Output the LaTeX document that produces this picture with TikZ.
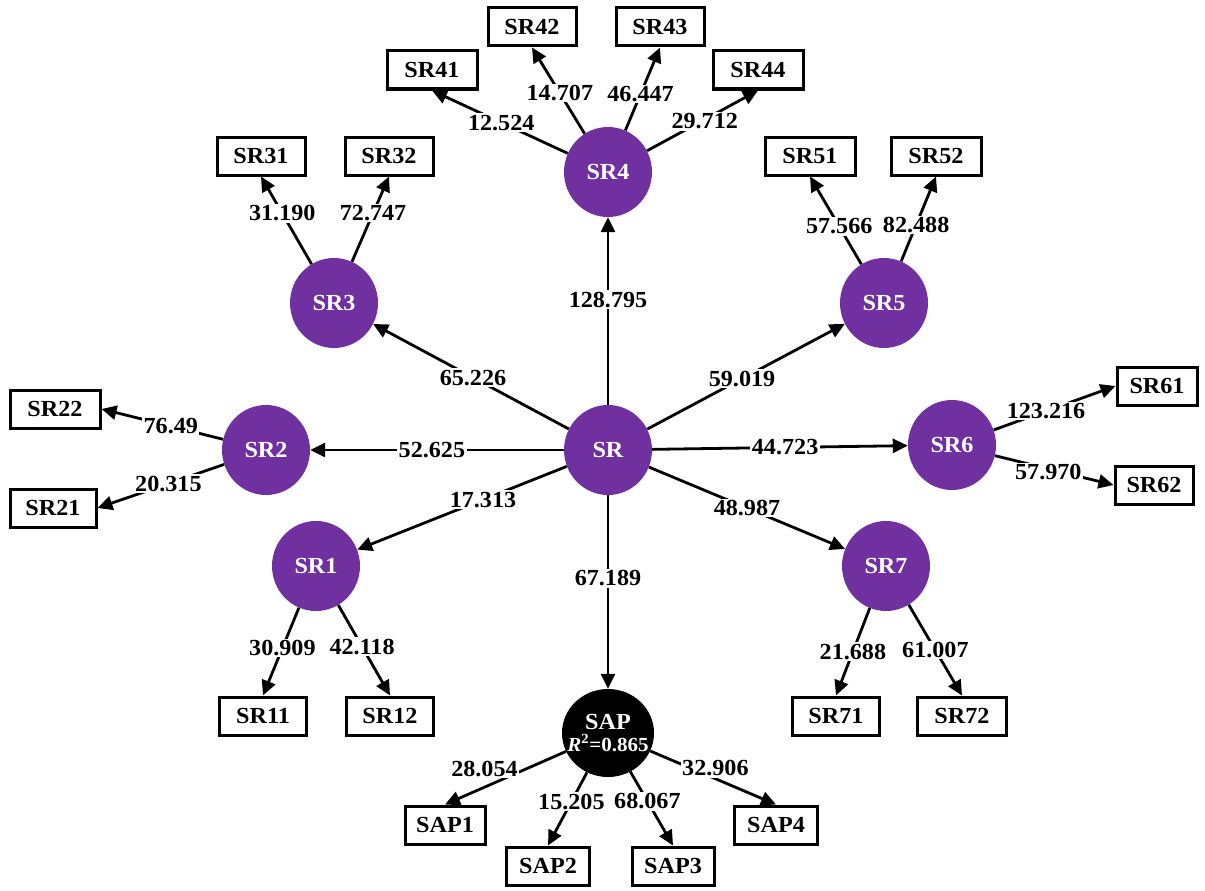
\documentclass[tikz,border=0pt]{standalone}
\usepackage{fontspec}
\setmainfont{Liberation Serif}[FakeStretch=1.05]
\usetikzlibrary{shapes.geometric,arrows.meta}
\definecolor{lvpurple}{HTML}{7030A0}
\tikzset{
  lv/.style={ellipse, fill=lvpurple, text=white, minimum width=88pt, minimum height=90pt, inner sep=0pt, font=\fontsize{23}{25}\selectfont\bfseries},
  ind/.style={draw=black, line width=3pt, fill=white, minimum width=88pt, minimum height=38pt, inner sep=0pt, font=\fontsize{23}{25}\selectfont\bfseries},
  ed/.style={line width=2.8pt, -{Triangle[length=15pt,width=14pt]}},
  lbl/.style={fill=white, inner sep=1.5pt, font=\fontsize{23}{25}\selectfont\bfseries}
}
\begin{document}
\begin{tikzpicture}[x=1pt,y=-1pt]
\useasboundingbox (0,0) rectangle (1205,891);
% latent variables
\node[lv] (sr) at (608,450) {SR};
\node[lv] (sr4) at (608,172) {SR4};
\node[lv] (sr3) at (334,303) {SR3};
\node[lv] (sr5) at (884,303) {SR5};
\node[lv] (sr2) at (266,450) {SR2};
\node[lv] (sr6) at (952,445) {SR6};
\node[lv] (sr1) at (316,566) {SR1};
\node[lv] (sr7) at (886,566) {SR7};
\node[lv, fill=black, align=center, minimum width=92pt, minimum height=88pt, inner xsep=-14pt, inner ysep=-6pt] (sap) at (608,733) {SAP\\[-3pt]{\fontsize{20}{22}\selectfont\textit{R}\textsuperscript{2}=0.865}};
% indicators
\node[ind, minimum width=90pt] (sr41) at (432,70) {SR41};
\node[ind] (sr42) at (532,27) {SR42};
\node[ind] (sr43) at (660,27) {SR43};
\node[ind, minimum width=90pt] (sr44) at (758,70) {SR44};
\node[ind] (sr31) at (261,156) {SR31};
\node[ind] (sr32) at (389,156) {SR32};
\node[ind, minimum width=90pt] (sr51) at (810,156) {SR51};
\node[ind, minimum width=90pt] (sr52) at (936,156) {SR52};
\node[ind, minimum width=90pt] (sr22) at (55,409) {SR22};
\node[ind, minimum width=86pt] (sr21) at (53,508) {SR21};
\node[ind, minimum width=80pt] (sr61) at (1157,386) {SR61};
\node[ind, minimum width=78pt] (sr62) at (1154,485) {SR62};
\node[ind, minimum width=87pt] (sr11) at (263,716) {SR11};
\node[ind, minimum width=87pt] (sr12) at (390,716) {SR12};
\node[ind, minimum width=87pt] (sr71) at (836,716) {SR71};
\node[ind, minimum width=89pt] (sr72) at (962,716) {SR72};
\node[ind, minimum width=80pt] (sap1) at (445,825) {SAP1};
\node[ind, minimum width=83pt] (sap2) at (548,866) {SAP2};
\node[ind, minimum width=82pt] (sap3) at (673,866) {SAP3};
\node[ind, minimum width=83pt] (sap4) at (776,825) {SAP4};
% structural paths
\draw[ed] (sr) -- node[lbl, pos=0.56] {128.795} (sr4);
\draw[ed] (sr) -- node[lbl, pos=0.49] {65.226} (sr3);
\draw[ed] (sr) -- node[lbl, pos=0.48] {59.019} (sr5);
\draw[ed] (sr) -- node[lbl, pos=0.52] {52.625} (sr2);
\draw[ed] (sr) -- node[lbl, pos=0.52] {44.723} (sr6);
\draw[ed] (sr) -- node[lbl, pos=0.40] {17.313} (sr1);
\draw[ed] (sr) -- node[lbl, pos=0.50] {48.987} (sr7);
\draw[ed] (sr) -- node[lbl, pos=0.43] {67.189} (sap);
% loadings
\draw[ed] (sr4) -- node[lbl, pos=0.49] {12.524} (sr41.south);
\draw[ed] (sr4) -- node[lbl, pos=0.47] {14.707} (sr42.south);
\draw[ed] (sr4) -- node[lbl, pos=0.44] {46.447} (sr43.south);
\draw[ed] (sr4) -- node[lbl, pos=0.52, yshift=-2pt] {29.712} (sr44.south);
\draw[ed] (sr3) -- node[lbl, pos=0.58] {31.190} (sr31.south);
\draw[ed] (sr3) -- node[lbl, pos=0.57] {72.747} (sr32.south);
\draw[ed] (sr5) -- node[lbl, pos=0.43] {57.566} (sr51.south);
\draw[ed] (sr5) -- node[lbl, pos=0.43] {82.488} (sr52.south);
\draw[ed] (sr2) -- node[lbl, pos=0.43] {76.49} (sr22.east);
\draw[ed] (sr2) -- node[lbl, pos=0.44] {20.315} (sr21.east);
\draw[ed] (sr6) -- node[lbl, pos=0.43] {123.216} (sr61.west);
\draw[ed] (sr6) -- node[lbl, pos=0.45, yshift=-3pt] {57.970} (sr62.west);
\draw[ed] (sr1) -- node[lbl, pos=0.46] {30.909} (sr11.north);
\draw[ed] (sr1) -- node[lbl, pos=0.46] {42.118} (sr12.north);
\draw[ed] (sr7) -- node[lbl, pos=0.50] {21.688} (sr71.north);
\draw[ed] (sr7) -- node[lbl, pos=0.50] {61.007} (sr72.north);
\draw[ed] (sap) -- node[lbl, pos=0.55, xshift=-15pt, yshift=12pt] {28.054} (sap1.north);
\draw[ed] (sap) -- node[lbl, pos=0.40] {15.205} (sap2.north);
\draw[ed] (sap) -- node[lbl, pos=0.40] {68.067} (sap3.north);
\draw[ed] (sap) -- node[lbl, pos=0.55, xshift=-4pt, yshift=12pt] {32.906} (sap4.north);
\end{tikzpicture}
\end{document}
